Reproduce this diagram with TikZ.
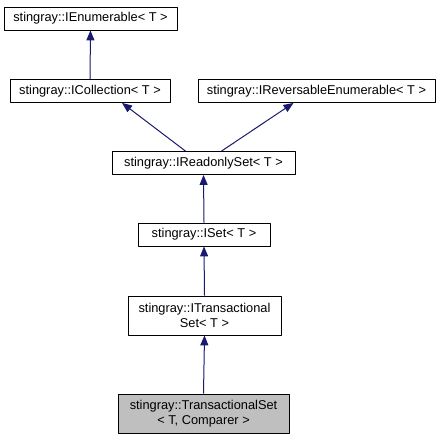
\documentclass[tikz,border=0pt]{standalone}
\usepackage{fontspec}
\setmainfont{Liberation Sans}
\usetikzlibrary{arrows.meta}
\definecolor{edgeblue}{HTML}{191970}
\definecolor{leafgray}{HTML}{BFBFBF}
\begin{document}
\begin{tikzpicture}[x=1pt, y=-1pt, line join=round, >={Triangle[length=10pt,width=8pt]}]
	\tikzset{every node/.style={font=\fontsize{12.8}{14.5}\selectfont},
		cls/.style={draw=black, fill=white, line width=0.8pt, inner sep=0pt, align=center},
		inh/.style={<-, draw=edgeblue, line width=1pt}}
	\def\rowh{23}\def\twoh{39}
	\useasboundingbox (0,0) rectangle (440,443);
	\node[cls, minimum width=173pt, minimum height=\rowh pt] (ienum) at (90.5,18.5) {stingray::IEnumerable< T >};
	\node[cls, minimum width=160pt, minimum height=\rowh pt] (icoll) at (90,91) {stingray::ICollection< T >};
	\node[cls, minimum width=237pt, minimum height=\rowh pt] (irev) at (316.5,91) {stingray::IReversableEnumerable< T >};
	\node[cls, minimum width=183pt, minimum height=\rowh pt] (iro) at (203.5,163) {stingray::IReadonlySet< T >};
	\node[cls, minimum width=132pt, minimum height=\rowh pt] (iset) at (204,234.5) {stingray::ISet< T >};
	\node[cls, minimum width=153pt, minimum height=\twoh pt] (itrans) at (204.5,315.5) {stingray::ITransactional\\Set< T >};
	\node[cls, fill=leafgray, minimum width=171pt, minimum height=\twoh pt] (trans) at (203.5,413.5) {stingray::TransactionalSet\\< T, Comparer >};
	% inheritance edges
	\draw[inh] (ienum.south) -- (icoll.north);
	\draw[inh] ([xshift=32pt]icoll.south) -- ([xshift=-18pt]iro.north);
	\draw[inh] ([xshift=-23pt]irev.south) -- ([xshift=18pt]iro.north);
	\draw[inh] (iro.south) -- (iset.north);
	\draw[inh] (iset.south) -- (itrans.north);
	\draw[inh] (itrans.south) -- (trans.north);
\end{tikzpicture}
\end{document}
